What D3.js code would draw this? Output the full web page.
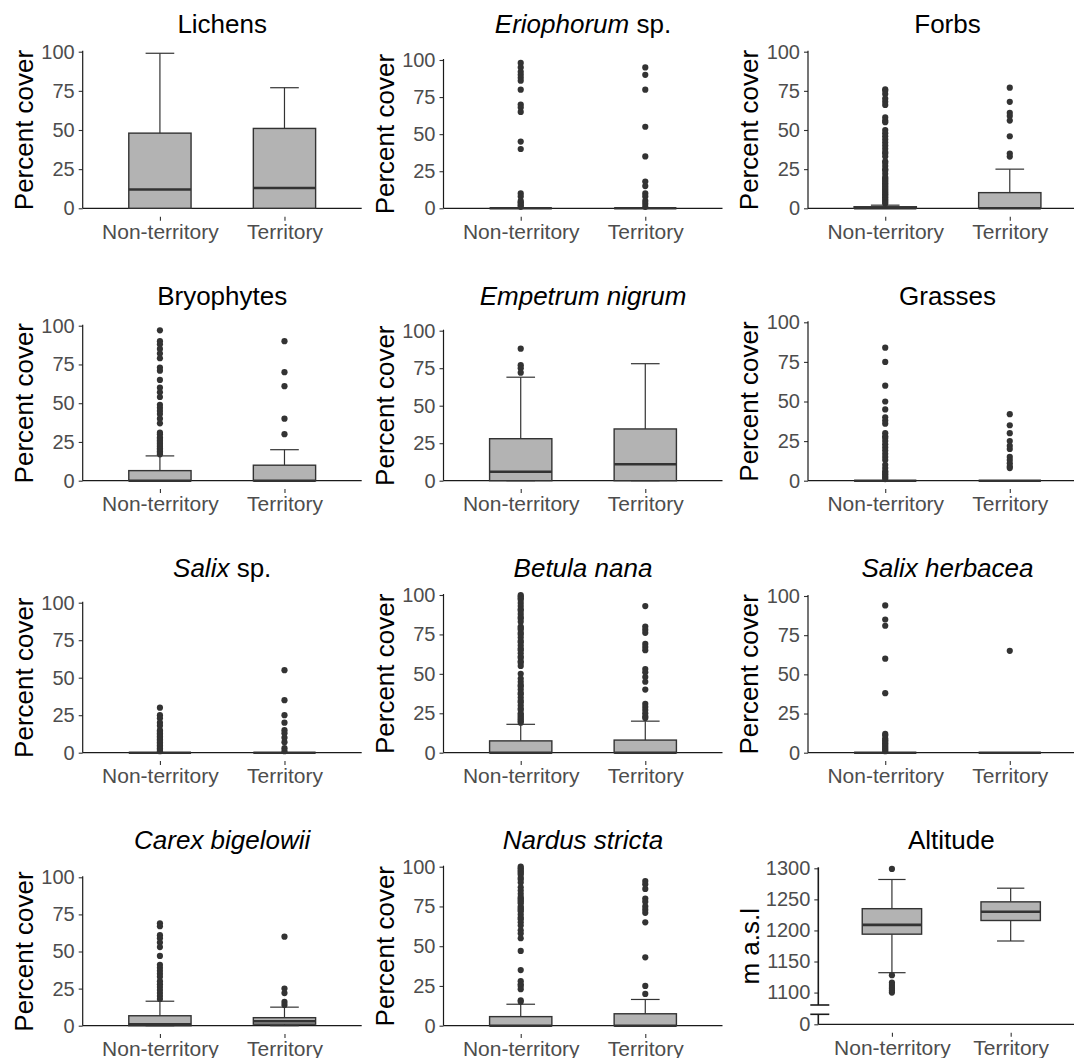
<!DOCTYPE html>
<html>
<head>
<meta charset="utf-8">
<script src="https://cdn.jsdelivr.net/npm/d3@7"></script>
<style>
  body { margin: 0; background: #fff; }
  text { font-family: "Liberation Sans", Arial, sans-serif; }
</style>
</head>
<body>
<div id="chart"></div>
<script>
// groups on the x axis
var groups = ["Non-territory", "Territory"];

// box stats per group: [lower whisker, q1, median, q3, upper whisker]
var lichensBox = [[0, 0, 12, 48, 99], [0, 0, 13, 51, 77]];
var lichensOut = [[], []];

var eriophorumBox = [[0, 0, 0, 0, 0], [0, 0, 0, 0, 0]];
var eriophorumOut = [[98, 95, 92, 90, 88, 86, 80, 70, 68, 65, 45, 40, 10, 8, 5, 4, 3, 2, 1],
                     [95, 90, 80, 55, 35, 18, 15, 10, 8, 5, 3, 1]];

var forbsBox = [[0, 0, 0, 1, 2], [0, 0, 0, 10, 25]];
var forbsOut = [[76, 75, 73, 70, 68, 66, 58, 56, 55, 50, 48, 46, 44, 42, 40, 38, 36, 35, 33, 30, 29, 27, 25, 24, 22, 20, 19, 18, 17, 16, 15, 14, 13, 12, 11, 10, 9, 8, 7, 6, 5, 4, 3],
                [77, 68, 61, 59, 56, 46, 35, 33]];

var bryophytesBox = [[0, 0, 0, 6.5, 16], [0, 0, 0, 10, 20]];
var bryophytesOut = [[97, 90, 88, 85, 82, 79, 73, 71, 65, 60, 57, 54, 49, 47, 45, 43, 40, 37, 31, 30, 28, 27, 26, 25, 24, 23, 22, 21, 20, 19, 18, 17],
                     [90, 70, 61, 40, 30]];

var empetrumBox = [[0, 0, 6, 28, 69], [0, 0, 11, 34.5, 78]];
var empetrumOut = [[88, 77, 75, 72], []];

var grassesBox = [[0, 0, 0, 0, 0], [0, 0, 0, 0, 0]];
var grassesOut = [[84, 75, 60, 50, 45, 40, 38, 36, 30, 28, 27, 25, 23, 21, 19, 17, 15, 13, 10, 8, 6, 5, 4, 3, 2, 1],
                  [42, 35, 30, 25, 22, 20, 15, 13, 11, 9, 8]];

var salixBox = [[0, 0, 0, 0, 0], [0, 0, 0, 0, 0]];
var salixOut = [[30, 25, 23, 20, 18, 15, 14, 13, 12, 11, 10, 9, 8, 7, 6, 5, 4, 3, 2, 1],
                [55, 35, 25, 20, 15, 13, 10, 7, 3, 1]];

var betulaBox = [[0, 0, 0, 7.5, 18], [0, 0, 0, 8, 20]];
var betulaOut = [[100, 99, 98, 97, 95, 93, 91, 90, 88, 86, 85, 83, 80, 79, 78, 76, 75, 73, 71, 70, 68, 66, 65, 63, 61, 60, 58, 57, 55, 50, 47, 45, 43, 42, 40, 38, 37, 35, 33, 32, 30, 28, 27, 25, 24, 23, 22, 21, 20, 19],
                 [93, 80, 78, 76, 69, 67, 65, 53, 51, 48, 45, 40, 31, 29, 27, 25, 23, 22]];

var herbaceaBox = [[0, 0, 0, 0, 0], [0, 0, 0, 0, 0]];
var herbaceaOut = [[94, 85, 81, 60, 38, 12, 11, 9, 8, 7, 6, 5, 4, 3, 2, 1], [65]];

var carexBox = [[0, 0, 1, 6.7, 16.5], [0, 1, 3, 5.4, 12.5]];
var carexOut = [[69, 67, 61, 59, 56, 53, 47, 41, 39, 37, 35, 33, 30, 28, 26, 24, 22, 20, 18],
                [60, 25, 22, 16, 14]];

var nardusBox = [[0, 0, 0, 5.7, 13.5], [0, 0, 0, 7.5, 16.5]];
var nardusOut = [[100, 99, 98, 97, 96, 95, 93, 92, 90, 87, 85, 83, 81, 80, 79, 78, 77, 75, 74, 73, 72, 70, 68, 67, 65, 63, 60, 58, 55, 47, 35, 28, 26, 25, 23, 16, 15],
                 [91, 89, 86, 80, 78, 75, 73, 71, 65, 43, 25, 20]];

var altitudeBox = [[1132, 1194, 1209, 1235, 1282], [1183, 1216, 1230, 1246, 1268]];
var altitudeOut = [[1299, 1128, 1116, 1112, 1109, 1106, 1103, 1100], []];

// tick labels
var coverTicks = [0, 25, 50, 75, 100];
var altitudeTicks = [0, 1100, 1150, 1200, 1250, 1300];
var altitudeBreak = 1080;

// panel titles, as [text, italic] pieces
var titles = [
  [["Lichens", false]],
  [["Eriophorum", true], [" sp.", false]],
  [["Forbs", false]],
  [["Bryophytes", false]],
  [["Empetrum nigrum", true]],
  [["Grasses", false]],
  [["Salix", true], [" sp.", false]],
  [["Betula nana", true]],
  [["Salix herbacea", true]],
  [["Carex bigelowii", true]],
  [["Nardus stricta", true]],
  [["Altitude", false]]
];

var boxes = [lichensBox, eriophorumBox, forbsBox, bryophytesBox, empetrumBox, grassesBox,
             salixBox, betulaBox, herbaceaBox, carexBox, nardusBox, altitudeBox];
var outliers = [lichensOut, eriophorumOut, forbsOut, bryophytesOut, empetrumOut, grassesOut,
                salixOut, betulaOut, herbaceaOut, carexOut, nardusOut, altitudeOut];

// layout
var W = 1074, H = 1058;
var colLeft = [82.7, 443.5, 808];
var plotW = 279;
var rowBase = [208.3, 480.7, 752.7, 1025.7];
var rowTitle = [33, 305, 577, 849];
var panelTop = [51.7, 60, 51.7, 325.7, 330.7, 322.3, 602.7, 595, 596, 877.3, 866.7, 868.3];

var svg = d3.select("#chart").append("svg")
    .attr("width", W)
    .attr("height", H);

var dark = "#333333", tickGray = "#4d4d4d";

titles.forEach(function(title, i) {
  var col = i % 3, row = Math.floor(i / 3);
  var isAlt = (i == 11);
  var L = isAlt ? 818.3 : colLeft[col];
  var R = isAlt ? L + 266 : L + plotW;
  var y0 = isAlt ? 1024.3 : rowBase[row];
  var yTop = panelTop[i];

  var x = d3.scalePoint().domain(groups).range([L, R]).padding(0.62);
  var step = x.step();

  var y;
  if (isAlt) {
    // broken axis: 0 at the bottom, then 1080..1300
    y = d3.scaleLinear().domain([0, altitudeBreak, 1300]).range([y0, y0 - 19.3, yTop]);
  } else {
    y = d3.scaleLinear().domain([0, 100]).range([y0, yTop]);
  }

  var g = svg.append("g");

  // title
  var t = g.append("text")
    .attr("x", (L + R) / 2)
    .attr("y", rowTitle[row])
    .attr("text-anchor", "middle")
    .style("font-size", "26px")
    .style("fill", "#000");
  title.forEach(function(p) {
    t.append("tspan").text(p[0]).style("font-style", p[1] ? "italic" : "normal");
  });

  // y label
  g.append("text")
    .attr("transform", "translate(" + (L - (isAlt ? 59 : 50)) + "," + ((y0 + yTop) / 2) + ") rotate(-90)")
    .attr("text-anchor", "middle")
    .style("font-size", "26px")
    .style("fill", "#000")
    .text(isAlt ? "m a.s.l" : "Percent cover");

  // y axis
  var yAxis = g.append("g")
    .attr("transform", "translate(" + L + ",0)")
    .call(d3.axisLeft(y).tickValues(isAlt ? altitudeTicks : coverTicks)
      .tickFormat(d3.format("d")).tickSize(4).tickSizeOuter(0).tickPadding(4));
  yAxis.select(".domain").remove();
  yAxis.selectAll(".tick line").attr("stroke", dark).attr("stroke-width", 1.1);
  yAxis.selectAll(".tick text")
    .style("font-size", "20px")
    .style("font-family", "'Liberation Sans', Arial, sans-serif")
    .attr("fill", tickGray);

  if (isAlt) {
    var b1 = y(altitudeBreak), b2 = b1 + 9.3;
    g.append("line").attr("x1", L).attr("x2", L).attr("y1", yTop - 1).attr("y2", b1)
      .attr("stroke", "#1a1a1a").attr("stroke-width", 1.6);
    g.append("line").attr("x1", L).attr("x2", L).attr("y1", b2).attr("y2", y0)
      .attr("stroke", "#1a1a1a").attr("stroke-width", 1.6);
    [b1, b2].forEach(function(by) {
      g.append("line").attr("x1", L - 8).attr("x2", L + 11).attr("y1", by).attr("y2", by)
        .attr("stroke", "#1a1a1a").attr("stroke-width", 1.6);
    });
  } else {
    g.append("line").attr("x1", L).attr("x2", L).attr("y1", yTop - 1).attr("y2", y0)
      .attr("stroke", "#1a1a1a").attr("stroke-width", 1.2);
  }

  // x axis ticks and labels
  var xAxis = g.append("g")
    .attr("transform", "translate(0," + (y0 + 8.4) + ")")
    .call(d3.axisBottom(x).tickSize(4).tickPadding(3));
  xAxis.select(".domain").remove();
  xAxis.selectAll(".tick line").attr("stroke", dark).attr("stroke-width", 1.1);
  xAxis.selectAll(".tick text")
    .style("font-size", "21px")
    .style("font-family", "'Liberation Sans', Arial, sans-serif")
    .attr("fill", tickGray);

  // horizontal line at zero
  g.append("line").attr("x1", L).attr("x2", R).attr("y1", y0).attr("y2", y0)
    .attr("stroke", "#1a1a1a").attr("stroke-width", 1.2);

  var bw = step * 0.5, cw = step * 0.23;
  var st = boxes[i];

  // whiskers and caps
  st.forEach(function(s, k) {
    var cx = x(groups[k]);
    g.append("line").attr("x1", cx).attr("x2", cx).attr("y1", y(s[3])).attr("y2", y(s[4]))
      .attr("stroke", dark).attr("stroke-width", 1.2);
    g.append("line").attr("x1", cx).attr("x2", cx).attr("y1", y(s[0])).attr("y2", y(s[1]))
      .attr("stroke", dark).attr("stroke-width", 1.2);
    [s[0], s[4]].forEach(function(v) {
      g.append("line").attr("x1", cx - cw / 2).attr("x2", cx + cw / 2).attr("y1", y(v)).attr("y2", y(v))
        .attr("stroke", dark).attr("stroke-width", 1.2);
    });
  });

  // boxes
  g.selectAll("rect.box").data(st).enter().append("rect")
    .attr("class", "box")
    .attr("x", function(d, k) { return x(groups[k]) - bw / 2; })
    .attr("y", function(d) { return y(d[3]); })
    .attr("width", bw)
    .attr("height", function(d) { return y(d[1]) - y(d[3]); })
    .attr("fill", "#b3b3b3")
    .attr("stroke", dark)
    .attr("stroke-width", 1.4);

  // medians
  g.selectAll("line.med").data(st).enter().append("line")
    .attr("class", "med")
    .attr("x1", function(d, k) { return x(groups[k]) - bw / 2; })
    .attr("x2", function(d, k) { return x(groups[k]) + bw / 2; })
    .attr("y1", function(d) { return y(d[2]); })
    .attr("y2", function(d) { return y(d[2]); })
    .attr("stroke", dark)
    .attr("stroke-width", 2.6);

  // outliers
  outliers[i].forEach(function(vals, k) {
    g.selectAll(null).data(vals).enter().append("circle")
      .attr("cx", x(groups[k]))
      .attr("cy", function(d) { return y(d); })
      .attr("r", 3.1)
      .attr("fill", dark);
  });
});
</script>
</body>
</html>
